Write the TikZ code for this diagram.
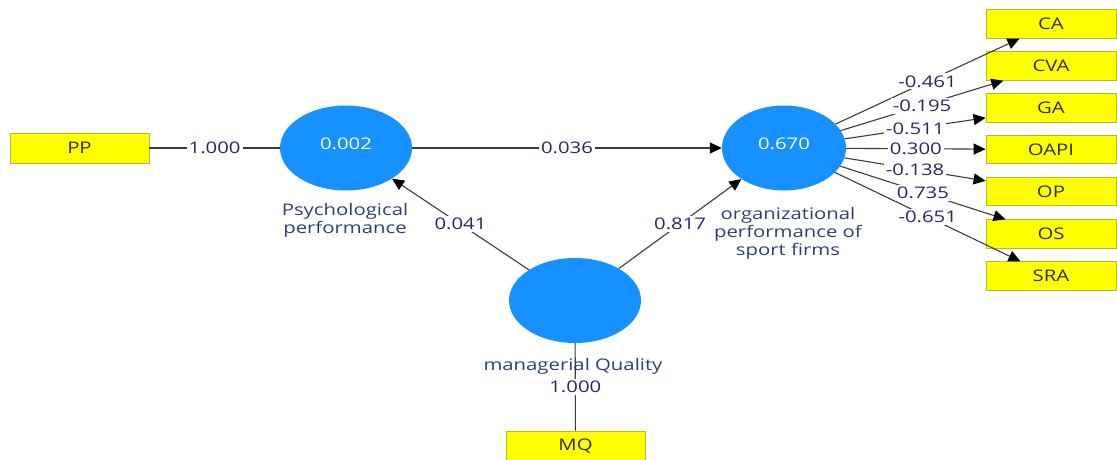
\documentclass[tikz,border=0pt]{standalone}
\usepackage{fontspec}
\setmainfont{Open Sans}[FakeStretch=1.27]
\usetikzlibrary{shapes.geometric,arrows.meta}
\definecolor{lvblue}{RGB}{22,145,255}
\definecolor{boxyellow}{RGB}{255,255,0}
\definecolor{boxborder}{RGB}{185,185,40}
\definecolor{numcol}{RGB}{40,40,95}
\definecolor{lvtext}{RGB}{45,65,110}
\definecolor{indtext}{RGB}{45,45,10}
\definecolor{linecol}{RGB}{60,60,60}
\begin{document}
\begin{tikzpicture}[x=1pt,y=-1pt,
  every node/.style={font=\fontsize{16}{18}\selectfont},
  lv/.style={ellipse, fill=lvblue, draw=none, minimum width=132pt, minimum height=85pt, inner sep=0pt, text=white, text depth=9pt},
  ind/.style={rectangle, fill=boxyellow, draw=boxborder, line width=0.8pt, minimum width=130pt, minimum height=28.5pt, inner sep=0pt, text=indtext},
  conn/.style={draw=linecol, line width=1.1pt},
  arr/.style={conn, -{Triangle[length=12pt,width=11pt,black]}},
  coef/.style={fill=white, text=numcol, inner sep=2pt},
  lvlabel/.style={text=lvtext, align=center}]
\useasboundingbox (0,0) rectangle (1117,459);
% latent variables
\node[lv] (psy) at (346,148) {0.002};
\node[lv, minimum width=124pt] (org) at (784,148) {0.670};
\node[lv] (mq) at (575,300.5) {};
% labels of latent variables
\node[lvlabel] (psylab) at (345,220) {Psychological\\performance};
\node[lvlabel] (orglab) at (788,233) {organizational\\performance of\\sport firms};
\node[lvlabel] (mqlab) at (573,366) {managerial Quality};
% indicators
\node[ind, minimum width=139pt, minimum height=30pt] (pp) at (79.5,148) {PP};
\node[ind, minimum width=139pt, minimum height=30pt] (mqb) at (575.5,446) {MQ};
\node[ind] (ca) at (1051,24) {CA};
\node[ind] (cva) at (1051,66) {CVA};
\node[ind] (ga) at (1051,108) {GA};
\node[ind] (oapi) at (1051,149.5) {OAPI};
\node[ind] (op) at (1051,191.5) {OP};
\node[ind] (os) at (1051,234) {OS};
\node[ind] (sra) at (1051,276) {SRA};
% connectors
\draw[conn] (pp) -- node[coef]{1.000} (psy);
\draw[arr] (psy) -- node[coef]{0.036} (org);
\draw[arr] (mq) -- node[coef]{0.041} (psy);
\draw[arr] (mq) -- node[coef]{0.817} (org);
\draw[conn] (mq) -- node[coef]{1.000} (mqb);
\draw[arr] (org) -- (ca);
\draw[arr] (org) -- (cva);
\draw[arr] (org) -- (ga);
\draw[arr] (org) -- (oapi);
\draw[arr] (org) -- (op);
\draw[arr] (org) -- (os);
\draw[arr] (org) -- (sra);
\path (org) -- node[coef]{-0.461} (ca);
\path (org) -- node[coef]{-0.195} (cva);
\path (org) -- node[coef]{-0.511} (ga);
\path (org) -- node[coef]{0.300} (oapi);
\path (org) -- node[coef]{-0.138} (op);
\path (org) -- node[coef]{0.735} (os);
\path (org) -- node[coef]{-0.651} (sra);
\end{tikzpicture}
\end{document}
